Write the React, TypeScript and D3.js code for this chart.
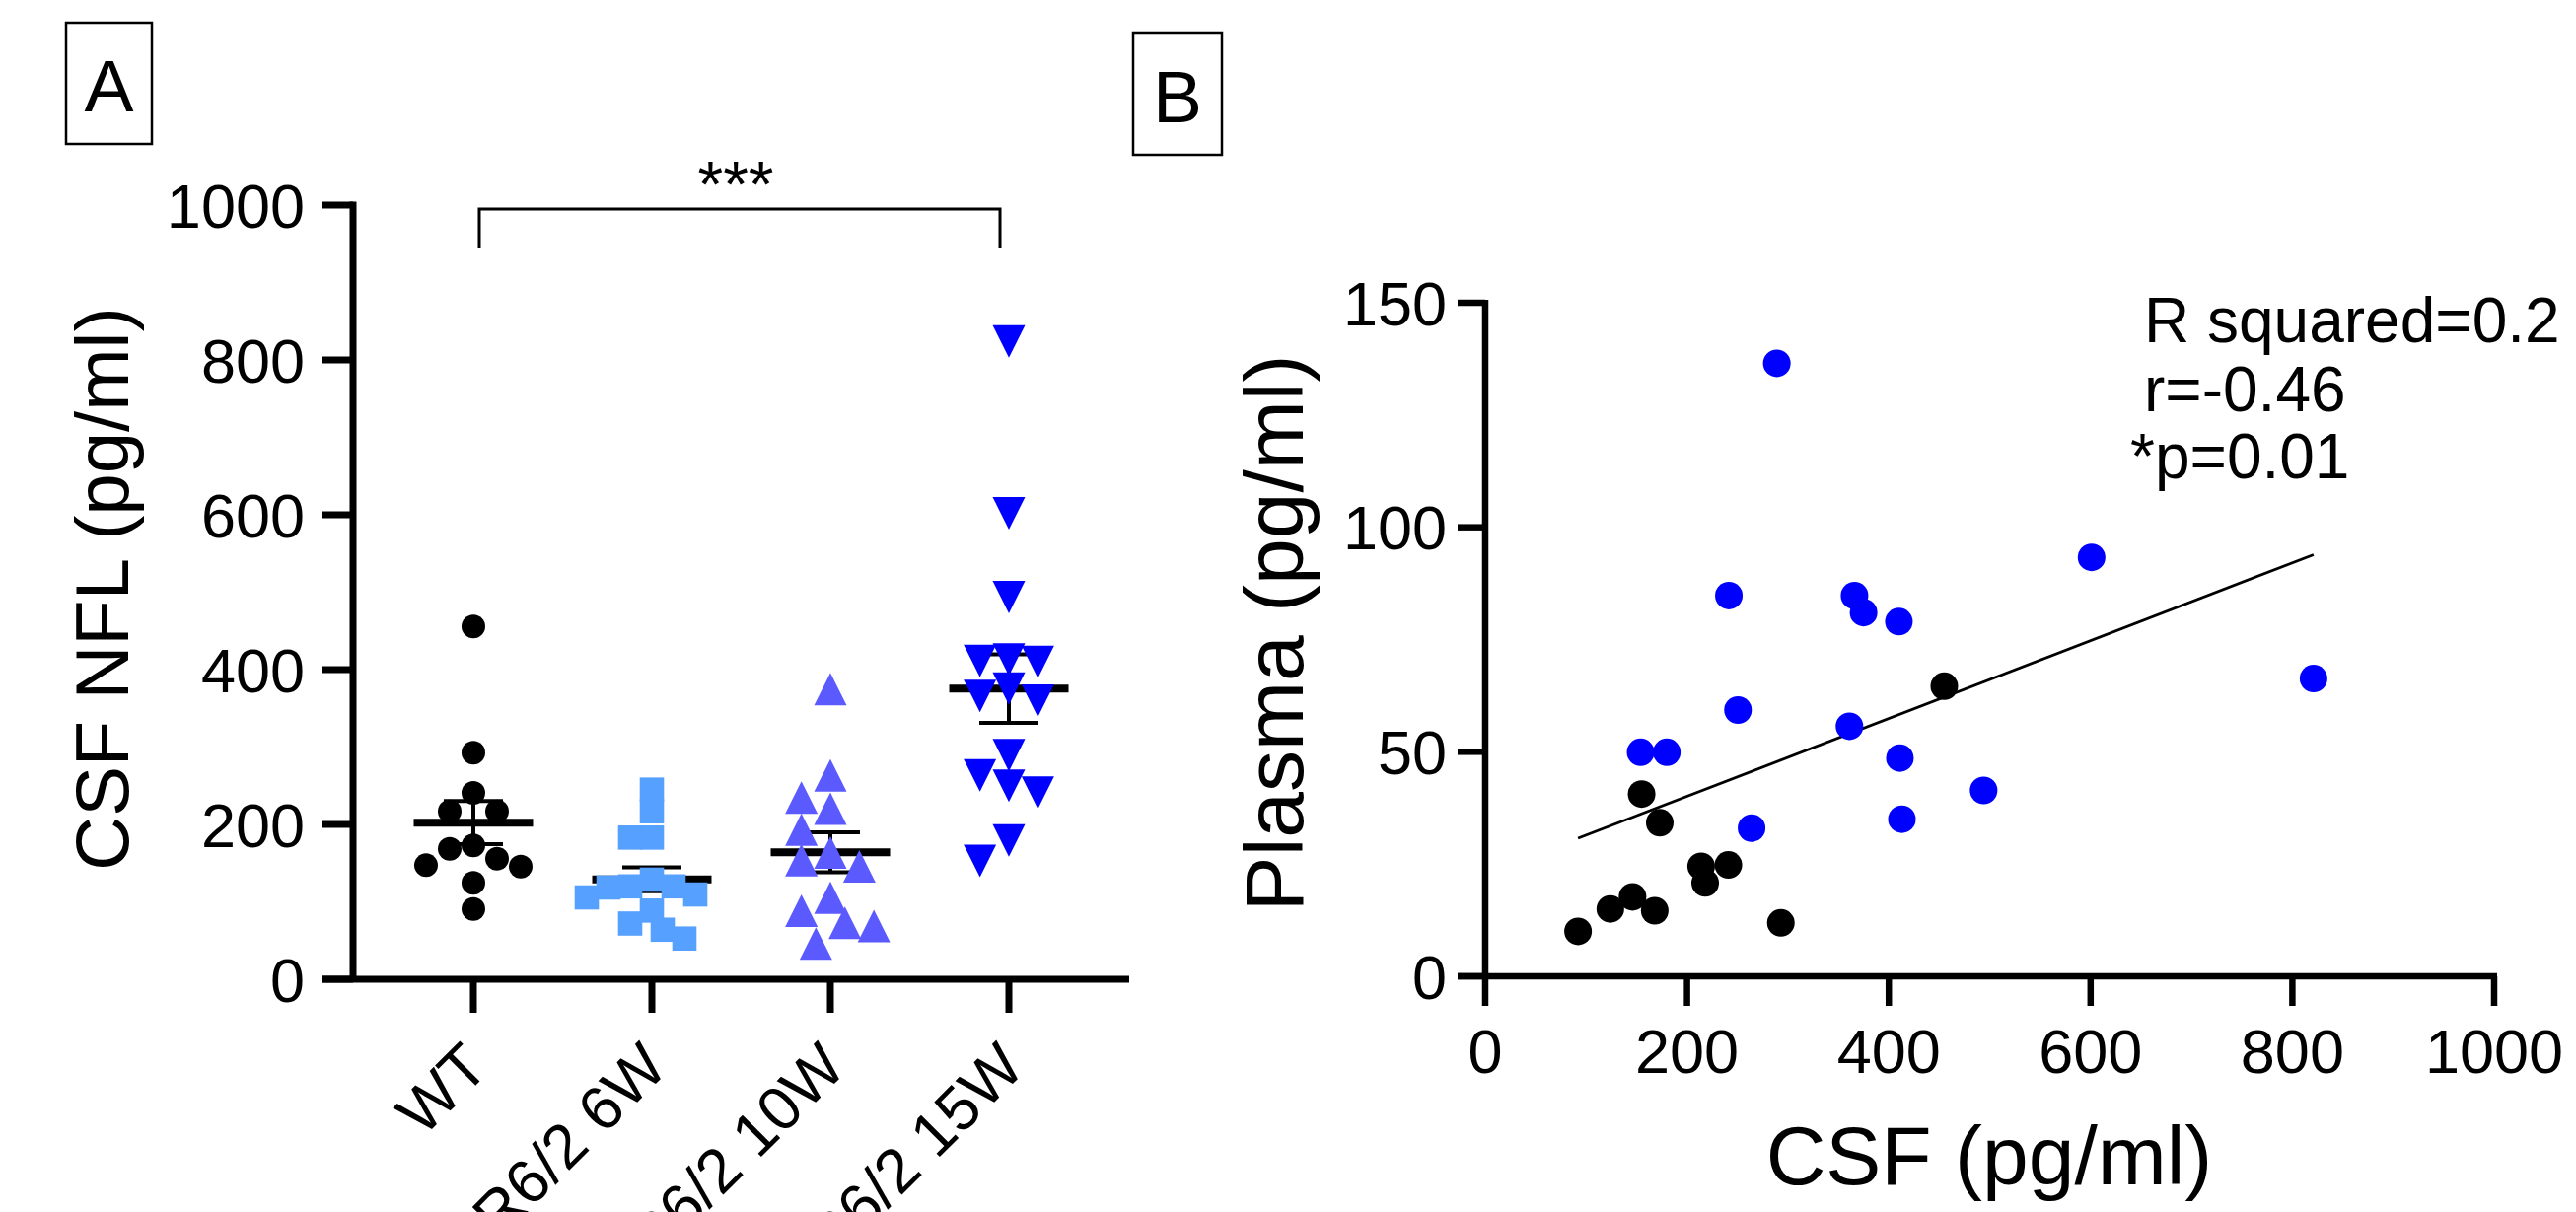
import React from 'react'
import * as d3 from 'd3'

// panel A: CSF NfL per group (pg/ml)
const categories = ['WT', 'R6/2 6W', 'R6/2 10W', 'R6/2 15W']
const wtNfl = [455.6, 292.6, 240.8, 217, 217, 172.8, 168.6, 155.8, 147.3, 145.6, 124.4, 90.8]
const w6Nfl = [245, 217, 183, 183, 128.7, 120, 120, 118.5, 109.5, 105.7, 88.7, 72, 64, 52.6]
const w10Nfl = [374.7, 263.5, 234.6, 220.4, 193.4, 163.7, 153.9, 145.9, 105.5, 88.5, 73, 68.8, 46.1]
const w15Nfl = [824, 602, 493.6, 411, 413, 409.8, 375.4, 360, 366, 289.6, 263.3, 250.1, 241.2, 179.2, 153]
const yTicksA = [0, 200, 400, 600, 800, 1000]
const sigLabel = '***'

// panel B: CSF vs plasma
const wtCsf = [455, 155, 173, 214, 241, 218, 146, 124, 168, 92, 293]
const wtPlasma = [64.6, 40.6, 34.2, 24.5, 24.8, 20.8, 17.7, 15, 14.6, 10, 11.9]
const r62Csf = [289, 241.5, 366, 375, 410, 601, 821, 250.5, 154, 180, 361, 411, 494, 413, 264]
const r62Plasma = [136.5, 84.8, 84.8, 81, 79, 93.3, 66.3, 59.3, 49.9, 49.9, 55.7, 48.6, 41.4, 35, 33]
const xTicksB = [0, 200, 400, 600, 800, 1000]
const yTicksB = [0, 50, 100, 150]
const statLines = ['R squared=0.2', 'r=-0.46', '*p=0.01']

const FONT = '"Liberation Sans", Arial, Helvetica, sans-serif'
const W = 2612, H = 1229

// simple beeswarm: place points top-down, nearest free slot from the centre
function swarm(vals: number[], y: (v: number) => number, step: number, minDist: number) {
  const order = vals.map((_, i) => i).sort((a, b) => vals[b] - vals[a])
  const placed: { x: number; y: number }[] = []
  const off: number[] = new Array(vals.length).fill(0)
  for (const i of order) {
    const py = y(vals[i])
    for (let k = 0; k < 60; k++) {
      const s = k === 0 ? 0 : (k % 2 ? -Math.ceil(k / 2) : Math.ceil(k / 2)) * step
      if (placed.every(p => Math.hypot(p.x - s, p.y - py) >= minDist)) {
        off[i] = s
        placed.push({ x: s, y: py })
        break
      }
    }
  }
  return off
}

function marker(shape: string, size: number) {
  const h = size / 2
  if (shape === 'square') return `M${-h},${-h}H${h}V${h}H${-h}Z`
  if (shape === 'up') return `M0,${-h}L${h},${h}L${-h},${h}Z`
  if (shape === 'down') return `M0,${h}L${h},${-h}L${-h},${-h}Z`
  return ''
}

export default function App() {
  // ---- panel A scales
  const yA = d3.scaleLinear().domain([0, 1000]).range([993, 208])
  const xA = d3.scalePoint<string>().domain(categories).range([358, 1145]).padding(0.674)
  const groups = [
    { name: categories[0], values: wtNfl, shape: 'circle', color: '#000000', size: 24, step: 24, minDist: 24 },
    { name: categories[1], values: w6Nfl, shape: 'square', color: '#56A0FF', size: 24.6, step: 11, minDist: 21 },
    { name: categories[2], values: w10Nfl, shape: 'up', color: '#5A5AFF', size: 33, step: 14.7, minDist: 29 },
    { name: categories[3], values: w15Nfl, shape: 'down', color: '#0000FF', size: 33, step: 14.7, minDist: 29 },
  ]

  // ---- panel B scales
  const xB = d3.scaleLinear().domain([0, 1000]).range([1506, 2529])
  const yB = d3.scaleLinear().domain([0, 150]).range([990, 307])
  const allX = [...wtCsf, ...r62Csf]
  const allY = [...wtPlasma, ...r62Plasma]
  const mx = d3.mean(allX) as number, my = d3.mean(allY) as number
  const slope = d3.sum(allX, (x, i) => (x - mx) * (allY[i] - my)) / d3.sum(allX, x => (x - mx) ** 2)
  const icpt = my - slope * mx
  const [x0, x1] = d3.extent(allX) as [number, number]
  const fitLine = d3.line<number>().x(d => xB(d)).y(d => yB(icpt + slope * d))([x0, x1])

  const axisW = 7
  const fs = 63

  return (
    <div style={{ position: 'absolute', left: 0, top: 0 }}>
      <svg width={W} height={H} style={{ display: 'block', background: '#fff' }} fontFamily={FONT}>
        {/* ===== Panel A ===== */}
        <rect x={67} y={23} width={87} height={123} fill="none" stroke="#000" strokeWidth={2.5} />
        <text x={110.5} y={113} fontSize={75} textAnchor="middle">A</text>

        {/* y axis */}
        <line x1={358} x2={358} y1={yA(1000) - axisW / 2} y2={yA(0)} stroke="#000" strokeWidth={axisW} />
        {yTicksA.map(t => (
          <g key={t}>
            <line x1={326} x2={358} y1={yA(t)} y2={yA(t)} stroke="#000" strokeWidth={axisW} />
            <text x={309} y={yA(t) + fs * 0.36} fontSize={fs} textAnchor="end">{t}</text>
          </g>
        ))}
        {/* x axis */}
        <line x1={326} x2={1145} y1={yA(0)} y2={yA(0)} stroke="#000" strokeWidth={axisW} />
        {categories.map(c => (
          <g key={c}>
            <line x1={xA(c)} x2={xA(c)} y1={yA(0)} y2={yA(0) + 34} stroke="#000" strokeWidth={axisW} />
            <text transform={`translate(${(xA(c) as number) + 18},1085) rotate(-45)`} fontSize={fs} textAnchor="end">{c}</text>
          </g>
        ))}
        <text transform="translate(130,597) rotate(-90)" fontSize={76} textAnchor="middle">CSF NFL (pg/ml)</text>

        {/* mean ± SEM */}
        {groups.map(g => {
          const cx = xA(g.name) as number
          const m = d3.mean(g.values) as number
          const sem = (d3.deviation(g.values) as number) / Math.sqrt(g.values.length)
          return (
            <g key={g.name + 'err'} stroke="#000">
              <line x1={cx} x2={cx} y1={yA(m + sem)} y2={yA(m - sem)} strokeWidth={4} />
              <line x1={cx - 30} x2={cx + 30} y1={yA(m + sem)} y2={yA(m + sem)} strokeWidth={4} />
              <line x1={cx - 30} x2={cx + 30} y1={yA(m - sem)} y2={yA(m - sem)} strokeWidth={4} />
              <line x1={cx - 60.5} x2={cx + 60.5} y1={yA(m)} y2={yA(m)} strokeWidth={8} />
            </g>
          )
        })}

        {/* points */}
        {groups.map(g => {
          const cx = xA(g.name) as number
          const offs = swarm(g.values, v => yA(v), g.step, g.minDist)
          return (
            <g key={g.name} fill={g.color}>
              {g.values.map((v, i) =>
                g.shape === 'circle'
                  ? <circle key={i} cx={cx + offs[i]} cy={yA(v)} r={g.size / 2} />
                  : <path key={i} d={marker(g.shape, g.size)} transform={`translate(${cx + offs[i]},${yA(v)})`} />
              )}
            </g>
          )
        })}

        {/* significance bracket */}
        <path d={`M${(xA(categories[0]) as number) + 6},251V212H${(xA(categories[3]) as number) - 9}V251`}
          fill="none" stroke="#000" strokeWidth={3} />
        <text x={746} y={210} fontSize={66} textAnchor="middle">{sigLabel}</text>

        {/* ===== Panel B ===== */}
        <rect x={1149} y={33} width={90} height={124} fill="none" stroke="#000" strokeWidth={2.5} />
        <text x={1194} y={124} fontSize={75} textAnchor="middle">B</text>

        <line x1={xB(0)} x2={xB(0)} y1={yB(150) - 3} y2={yB(0)} stroke="#000" strokeWidth={6.5} />
        {yTicksB.map(t => (
          <g key={t}>
            <line x1={1478} x2={xB(0)} y1={yB(t)} y2={yB(t)} stroke="#000" strokeWidth={6.5} />
            <text x={1467} y={yB(t) + fs * 0.36} fontSize={fs} textAnchor="end">{t}</text>
          </g>
        ))}
        <line x1={1478} x2={xB(1000) + 3} y1={yB(0)} y2={yB(0)} stroke="#000" strokeWidth={6.5} />
        {xTicksB.map(t => (
          <g key={t}>
            <line x1={xB(t)} x2={xB(t)} y1={yB(0)} y2={yB(0) + 30} stroke="#000" strokeWidth={6.5} />
            <text x={xB(t)} y={1088} fontSize={fs} textAnchor="middle">{t}</text>
          </g>
        ))}
        <text transform="translate(1321,642) rotate(-90)" fontSize={84} textAnchor="middle">Plasma (pg/ml)</text>
        <text x={2017} y={1201} fontSize={84} textAnchor="middle">CSF (pg/ml)</text>

        <path d={fitLine || ''} fill="none" stroke="#000" strokeWidth={2.8} />
        <g fill="#000">
          {wtCsf.map((x, i) => <circle key={i} cx={xB(x)} cy={yB(wtPlasma[i])} r={14} />)}
        </g>
        <g fill="#0000FF">
          {r62Csf.map((x, i) => <circle key={i} cx={xB(x)} cy={yB(r62Plasma[i])} r={14} />)}
        </g>

        {statLines.map((s, i) => (
          <text key={s} x={i === 2 ? 2160 : 2174} y={[347, 417, 485][i]} fontSize={64}>{s}</text>
        ))}
      </svg>
    </div>
  )
}
